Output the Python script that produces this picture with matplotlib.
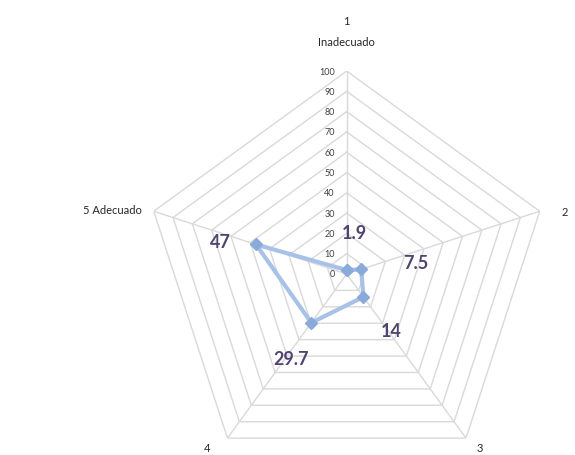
import matplotlib
matplotlib.use('Agg')
import matplotlib.pyplot as plt
import numpy as np

plt.rcParams['font.family'] = ['Lato', 'DejaVu Sans']

# data
categories = ['1\nInadecuado', '2', '3', '4', '5 Adecuado']
values = [1.9, 7.5, 14, 29.7, 47]
value_labels = ['1.9', '7.5', '14', '29.7', '47']
rticks = [0, 10, 20, 30, 40, 50, 60, 70, 80, 90, 100]

n = len(categories)
theta = np.arange(n) * 2 * np.pi / n
theta_c = np.append(theta, theta[0])

fig = plt.figure(figsize=(5.75, 4.56), dpi=100)
ax = fig.add_axes([0.250, -0.048, 0.706, 0.890], projection='polar')
ax.set_theta_zero_location('N')
ax.set_theta_direction(-1)
ax.set_ylim(0, 100)
ax.grid(False)
ax.spines['polar'].set_visible(False)
ax.set_xticks([])
ax.set_yticks([])

grid_col = '#d9d9d9'
# polygon rings
for r in rticks[1:]:
    ax.plot(theta_c, [r] * (n + 1), color=grid_col, lw=1.0, zorder=1)
# spokes
for t in theta:
    ax.plot([t, t], [0, 100], color=grid_col, lw=1.0, zorder=1)

# radial tick labels along the top spoke
for r in rticks:
    ax.annotate(str(r), xy=(0, r), xytext=(-12, 0), textcoords='offset pixels',
                ha='right', va='center', fontsize=6.5, color='#404040')

# data series
vals_c = np.append(values, values[0])
ax.plot(theta_c, vals_c, color='#a7c2e6', lw=3, marker='D', ms=6,
        mfc='#8aabd9', mec='#8aabd9', zorder=3)

# data labels
lab_off = [(8, 38), (55, 7), (28, -34), (-20, -36), (-36, 3)]
for t, v, s, off in zip(theta, values, value_labels, lab_off):
    ax.annotate(s, xy=(t, v), xytext=off, textcoords='offset pixels',
                ha='center', va='center', fontsize=13, fontweight='bold',
                color='#4f4470', zorder=4)

# category labels
cat_off = [(0, 40), (25, 0), (14, -9), (-20, -9), (-12, 2)]
cat_ha = ['center', 'center', 'center', 'center', 'right']
for t, s, off, ha in zip(theta, categories, cat_off, cat_ha):
    ax.annotate(s, xy=(t, 100), xytext=off, textcoords='offset pixels',
                ha=ha, va='center', fontsize=8, color='#262626',
                linespacing=2.2, annotation_clip=False)

fig.savefig('out.png', dpi=100)
